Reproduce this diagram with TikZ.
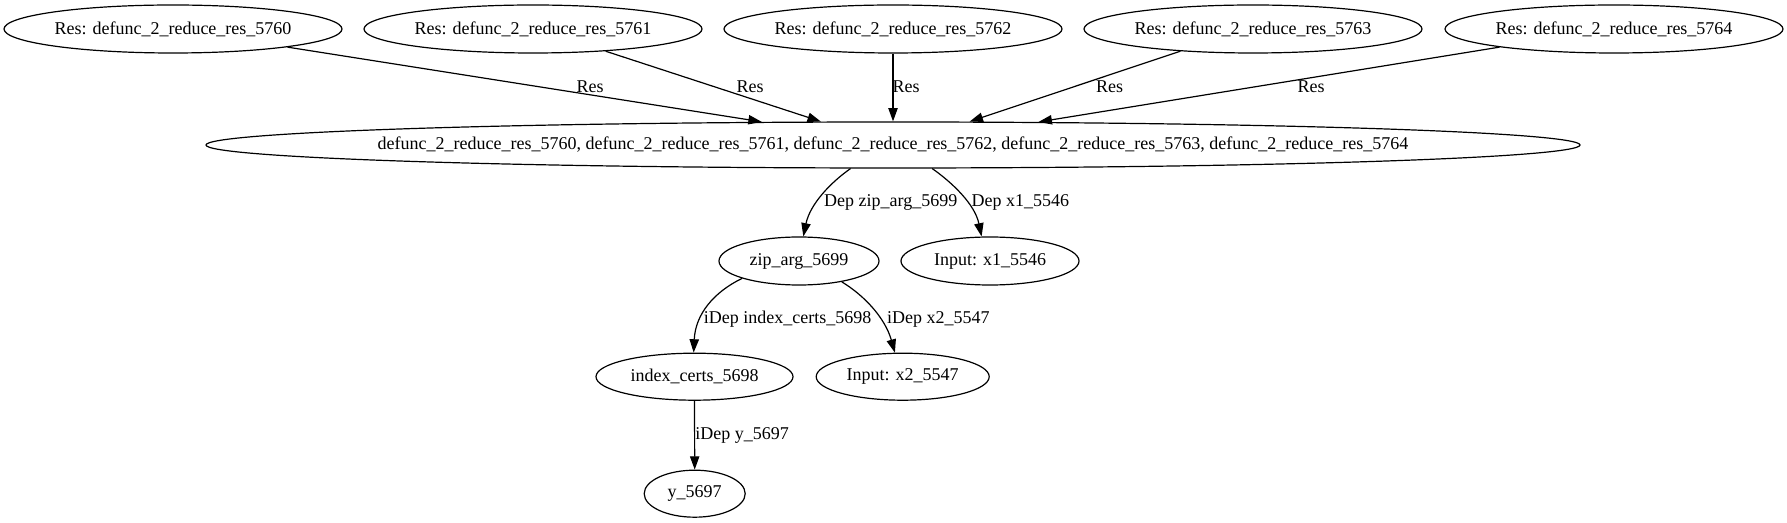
\documentclass[tikz,border=0pt]{standalone}
\usepackage{fontspec}
\setmainfont{Liberation Serif}
\usetikzlibrary{arrows.meta,shapes.geometric}
\newcommand{\zw}[1]{\makebox[0pt]{#1}}
\begin{document}
\begin{tikzpicture}[x=0.75pt,y=-0.75pt,
  every node/.style={font=\fontsize{13.5}{16}\selectfont},
  gnode/.style={draw, ellipse, line width=0.9pt, inner sep=0pt, minimum height=36pt},
  toprow/.style={gnode, minimum width=253.5pt},
  lbl/.style={inner sep=0pt},
  edge/.style={line width=0.9pt, -{Triangle[length=10pt,width=7pt]}}]
\useasboundingbox (0,0) rectangle (1787,523);
% top row
\node[toprow] (e0) at (173,29) {\zw{Res: defunc\_2\_reduce\_res\_5760}};
\node[toprow] (e1) at (533,29) {\zw{Res: defunc\_2\_reduce\_res\_5761}};
\node[toprow] (e2) at (893,29) {\zw{Res: defunc\_2\_reduce\_res\_5762}};
\node[toprow] (e3) at (1253,29) {\zw{Res: defunc\_2\_reduce\_res\_5763}};
\node[toprow] (e4) at (1614,29) {\zw{Res: defunc\_2\_reduce\_res\_5764}};
% main
\node[gnode, minimum width=1030.5pt, minimum height=34.5pt] (main) at (893,145)
  {\zw{defunc\_2\_reduce\_res\_5760, defunc\_2\_reduce\_res\_5761, defunc\_2\_reduce\_res\_5762, defunc\_2\_reduce\_res\_5763, defunc\_2\_reduce\_res\_5764}};
% lower nodes
\node[gnode, minimum width=120pt] (zip) at (799,261) {\zw{zip\_arg\_5699}};
\node[gnode, minimum width=133.5pt] (x1) at (990,261) {\zw{Input: x1\_5546}};
\node[gnode, minimum width=147.75pt, minimum height=35.25pt] (idx) at (694.5,376.7) {\zw{index\_certs\_5698}};
\node[gnode, minimum width=129.75pt, minimum height=35.25pt] (x2) at (902.7,376.7) {\zw{Input: x2\_5547}};
\node[gnode, minimum width=75.75pt, minimum height=35.25pt] (y) at (694.7,493.7) {\zw{y\_5697}};
% top edges
\draw[edge] (e0.-9.3) -- (main.170.6);
\draw[edge] (e1.-17.4) -- (main.162.1);
\draw[edge] (e2.south) -- (main.north);
\draw[edge] (e3.197.4) -- (main.17.9);
\draw[edge] (e4.189.3) -- (main.9.36);
\node[lbl] (l0) at (590,87) {Res};
\node[lbl] (l1) at (750,87) {Res};
\node[lbl] (l2) at (906,87) {Res};
\node[lbl] (l3) at (1109.6,87) {Res};
\node[lbl] (l4) at (1311,87) {Res};
% dep edges
\draw[edge] (main.209.5) .. controls +(-20,14) and +(6.7,-32.3) .. (zip.80);
\draw[edge] (main.-31.7) .. controls +(20,14) and +(-6.7,-32.3) .. (x1.109.3);
\node[lbl] (l5) at (890.8,202.7) {Dep zip\_arg\_5699};
\node[lbl] (l6) at (1020.3,202.7) {Dep x1\_5546};
\draw[edge] (zip.197.3) .. controls +(-28.3,13.7) and +(1.7,-38.3) .. (idx.92.9);
\draw[edge] (zip.-26.8) .. controls +(22,13.3) and +(-10,-35.3) .. (x2.108.2);
\node[lbl] (l7) at (787.7,319.3) {iDep index\_certs\_5698};
\node[lbl] (l8) at (938.3,319.3) {iDep x2\_5547};
\draw[edge] (idx.south) -- (y.north);
\node[lbl] (l9) at (742,435) {iDep y\_5697};
\end{tikzpicture}
\end{document}
